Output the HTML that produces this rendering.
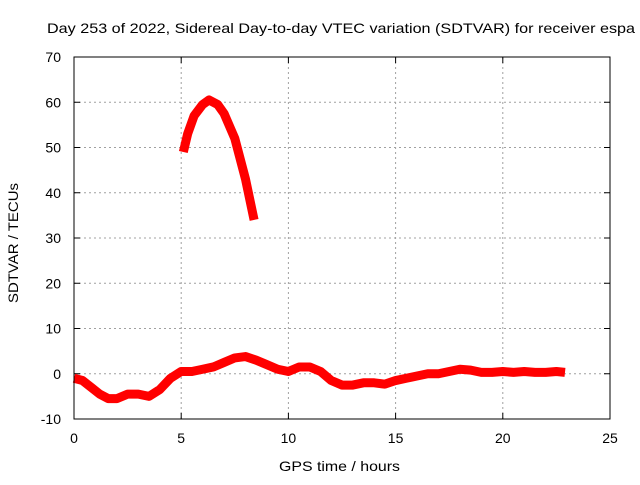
<!DOCTYPE html>
<html><head><meta charset="utf-8"><style>
body{margin:0;background:#fff;width:640px;height:480px;overflow:hidden}
svg text{font-family:"Liberation Sans",sans-serif;font-size:14px;fill:#000}
</style></head><body>
<svg id="chart" width="640" height="480" xmlns="http://www.w3.org/2000/svg">
<text x="47" y="33" textLength="588" lengthAdjust="spacingAndGlyphs">Day 253 of 2022, Sidereal Day-to-day VTEC variation (SDTVAR) for receiver espa</text>
<text x="279" y="471" textLength="121" lengthAdjust="spacingAndGlyphs">GPS time / hours</text>
<text transform="translate(18,303) rotate(-90)" textLength="120" lengthAdjust="spacingAndGlyphs">SDTVAR / TECUs</text>
<g id="grid"></g><g id="ticks"></g><g id="series"></g>
<rect x="74" y="57" width="536" height="362" fill="none" stroke="#000" stroke-width="1"/>
</svg>
<script>
const xTicks=[0,5,10,15,20,25];
const yTicks=[-10,0,10,20,30,40,50,60,70];
const lowT=[0,0.4,0.8,1.2,1.6,2.0,2.5,3.0,3.5,4.0,4.5,5.0,5.5,6.0,6.5,7.0,7.5,8.0,8.5,9.0,9.5,10.0,10.5,11.0,11.5,12.0,12.5,13,13.5,14,14.5,15,15.5,16,16.5,17,17.5,18,18.5,19,19.5,20,20.5,21,21.5,22,22.5,22.9];
const lowV=[-1,-1.5,-3,-4.5,-5.5,-5.5,-4.5,-4.5,-5,-3.5,-1,0.5,0.5,1,1.5,2.5,3.5,3.8,3,2,1,0.5,1.5,1.5,0.5,-1.5,-2.5,-2.5,-2,-2,-2.3,-1.5,-1,-0.5,0,0,0.5,1,0.8,0.3,0.3,0.5,0.3,0.5,0.3,0.3,0.5,0.3];
const arcT=[5.1,5.3,5.6,6.0,6.3,6.7,7.0,7.5,8.0,8.4];
const arcV=[49,53,57,59.5,60.5,59.5,57.5,52,43,34];
const X=t=>74+t*536/25, Y=v=>419-(v+10)*362/80;
const NS="http://www.w3.org/2000/svg";
function mk(tag,parent,attrs){const e=document.createElementNS(NS,tag);for(const k in attrs)e.setAttribute(k,attrs[k]);document.getElementById(parent).appendChild(e);return e;}
xTicks.forEach(t=>{
 if(t>0&&t<25){const g=mk('line','grid',{x1:X(t),x2:X(t),y1:57,y2:419,stroke:'#a0a0a0','stroke-dasharray':'2,3'});
 
 }
 const l=mk('text','ticks',{x:X(t),y:443,'text-anchor':'middle'});l.textContent=t;
 
 
 mk('line','ticks',{x1:X(t),x2:X(t),y1:419,y2:413,stroke:'#000'});
 mk('line','ticks',{x1:X(t),x2:X(t),y1:57,y2:63,stroke:'#000'});
});
yTicks.forEach(v=>{
 if(v>-10&&v<70){const g=mk('line','grid',{x1:74,x2:610,y1:Y(v),y2:Y(v),stroke:'#a0a0a0','stroke-dasharray':'2,3'});
 
 }
 const l=mk('text','ticks',{x:61,y:Y(v)+5,'text-anchor':'end'});l.textContent=v;
 
 
 mk('line','ticks',{x1:74,x2:80,y1:Y(v),y2:Y(v),stroke:'#000'});
 mk('line','ticks',{x1:610,x2:604,y1:Y(v),y2:Y(v),stroke:'#000'});
});
function series(T,V,name){
 const p=mk('polyline','series',{points:T.map((t,i)=>X(t)+','+Y(V[i])).join(' '),fill:'none',stroke:'#ff0000','stroke-width':9,'stroke-linejoin':'round','stroke-linecap':'butt'});
 
 
}
series(lowT,lowV,'sdtvar-series-low');
series(arcT,arcV,'sdtvar-series-arc');
</script>
</body></html>
